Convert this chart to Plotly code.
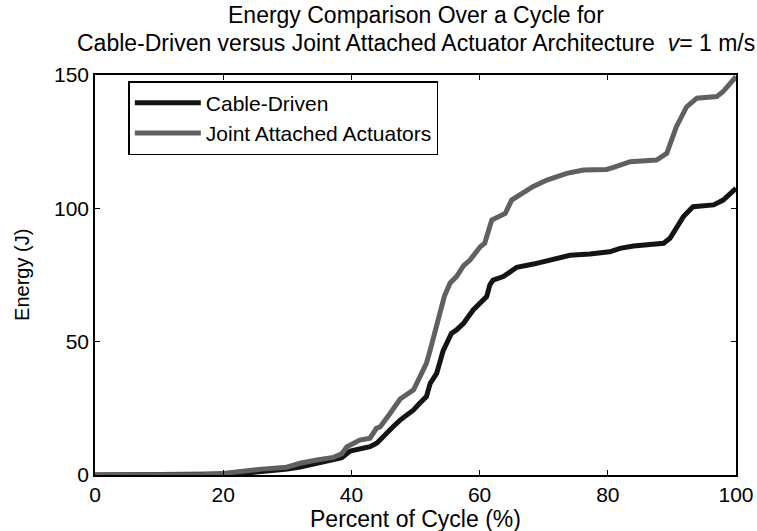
import plotly.graph_objects as go

# Cable-Driven architecture (black)
cable_x = [0, 10, 15, 17, 20, 23, 25, 28, 30, 32, 34, 35, 37.2, 38.5, 39.8, 41, 42.9, 44, 44.9, 46.5,
           47.6, 49.7, 50.5, 51.7, 52.3, 53.3, 54.3, 55.6, 56.4, 57.5, 59.0, 61.1, 61.6, 62.1, 63.7,
           65.8, 68.4, 71.5, 74.1, 77.2, 80.3, 81.9, 84.0, 88.7, 89.7, 91.8, 93.3, 96.5, 98.0, 100]
cable_y = [0, 0, 0, 0.3, 0.4, 0.6, 1.0, 1.6, 2.2, 3.0, 4.0, 4.5, 5.6, 6.5, 9.0, 9.8, 10.6, 12.0, 14.4, 18.1,
           20.6, 24.4, 26.5, 29.4, 34.4, 38.1, 46.5, 53.1, 54.4, 56.9, 61.9, 66.9, 71.3, 73.1, 74.4,
           77.9, 79.1, 80.9, 82.4, 82.9, 83.7, 85.0, 85.9, 86.9, 88.8, 96.9, 100.6, 101.3, 103.1, 107.5]

# Joint Attached Actuators architecture (gray)
joint_x = [0, 10, 15, 17, 20, 23.1, 26, 29.9, 32, 34.6, 37.2, 38.5, 39.3, 41.3, 42.9, 43.9, 44.5, 46,
           47.6, 49.7, 50.2, 51.7, 52.3, 53.3, 53.8, 54.5, 55.4, 56.4, 57.5, 58.5, 60.1, 60.8, 61.9,
           63.0, 64.0, 65.0, 65.8, 67.3, 68.3, 70.5, 73.6, 76.2, 79.8, 80.9, 83.5, 87.6, 89.2, 90.7,
           92.3, 93.9, 97.0, 98.0, 100]
joint_y = [0, 0, 0, 0.2, 0.6, 1.6, 2.2, 2.9, 4.4, 5.6, 6.6, 8.0, 10.6, 13.1, 13.8, 17.5, 18.1, 23.0,
           28.5, 31.9, 34.4, 41.9, 46.9, 56.9, 60.6, 67.0, 72.0, 74.4, 78.5, 80.6, 85.6, 86.9, 95.6,
           97.0, 98.1, 103.1, 104.4, 106.9, 108.1, 110.6, 113.1, 114.4, 114.6, 115.4, 117.5, 118.1,
           120.6, 130.6, 138.1, 141.3, 141.9, 143.8, 149.4]

x_ticks = [0, 20, 40, 60, 80, 100]
y_ticks = [0, 50, 100, 150]

title_line1 = "Energy Comparison Over a Cycle for"
title_line2 = "Cable-Driven versus Joint Attached Actuator Architecture  <i>v</i>= 1 m/s"
x_label = "Percent of Cycle (%)"
y_label = "Energy (J)"

FONT = "Liberation Sans, Arial, sans-serif"

fig = go.Figure()
fig.add_trace(go.Scatter(x=cable_x, y=cable_y, mode="lines", name="Cable-Driven",
                         line=dict(color="#141414", width=5)))
fig.add_trace(go.Scatter(x=joint_x, y=joint_y, mode="lines", name="Joint Attached Actuators",
                         line=dict(color="#606060", width=5)))

axis_common = dict(showgrid=False, zeroline=False, showline=True, linecolor="black", linewidth=1.5,
                   mirror="allticks", ticks="inside", ticklen=5, tickcolor="black",
                   tickfont=dict(family=FONT, size=21, color="black"))

fig.update_layout(
    width=757, height=531,
    margin=dict(l=95, r=21, t=75, b=56, autoexpand=False),
    paper_bgcolor="white", plot_bgcolor="white",
    font=dict(family=FONT, color="black"),
    showlegend=True,
    legend=dict(x=0.052, y=0.985, xanchor="left", yanchor="top",
                bordercolor="black", borderwidth=1.5, bgcolor="white",
                font=dict(family=FONT, size=21, color="black"),
                tracegroupgap=0, itemwidth=66),
    xaxis=dict(range=[0, 100], tickvals=x_ticks, **axis_common),
    yaxis=dict(range=[0, 150], tickvals=y_ticks, **axis_common),
    annotations=[
        dict(text=title_line1, xref="paper", yref="paper",
             x=0.5, y=1.15, xanchor="center", yanchor="middle", showarrow=False,
             font=dict(family=FONT, size=23, color="black")),
        dict(text=title_line2, xref="paper", yref="paper", x=0.5, y=1.08,
             xanchor="center", yanchor="middle", showarrow=False,
             font=dict(family=FONT, size=23, color="black")),
        dict(text=x_label, xref="paper", yref="paper", x=0.5, y=-0.11,
             xanchor="center", yanchor="middle", showarrow=False,
             font=dict(family=FONT, size=23, color="black")),
        dict(text=y_label, xref="paper", yref="paper", x=-0.114, y=0.5, textangle=-90,
             xanchor="center", yanchor="middle", showarrow=False,
             font=dict(family=FONT, size=20, color="black")),
    ],
)

fig.write_html("out.html", config={"displayModeBar": False},
               post_script="document.body.style.margin='0';")
